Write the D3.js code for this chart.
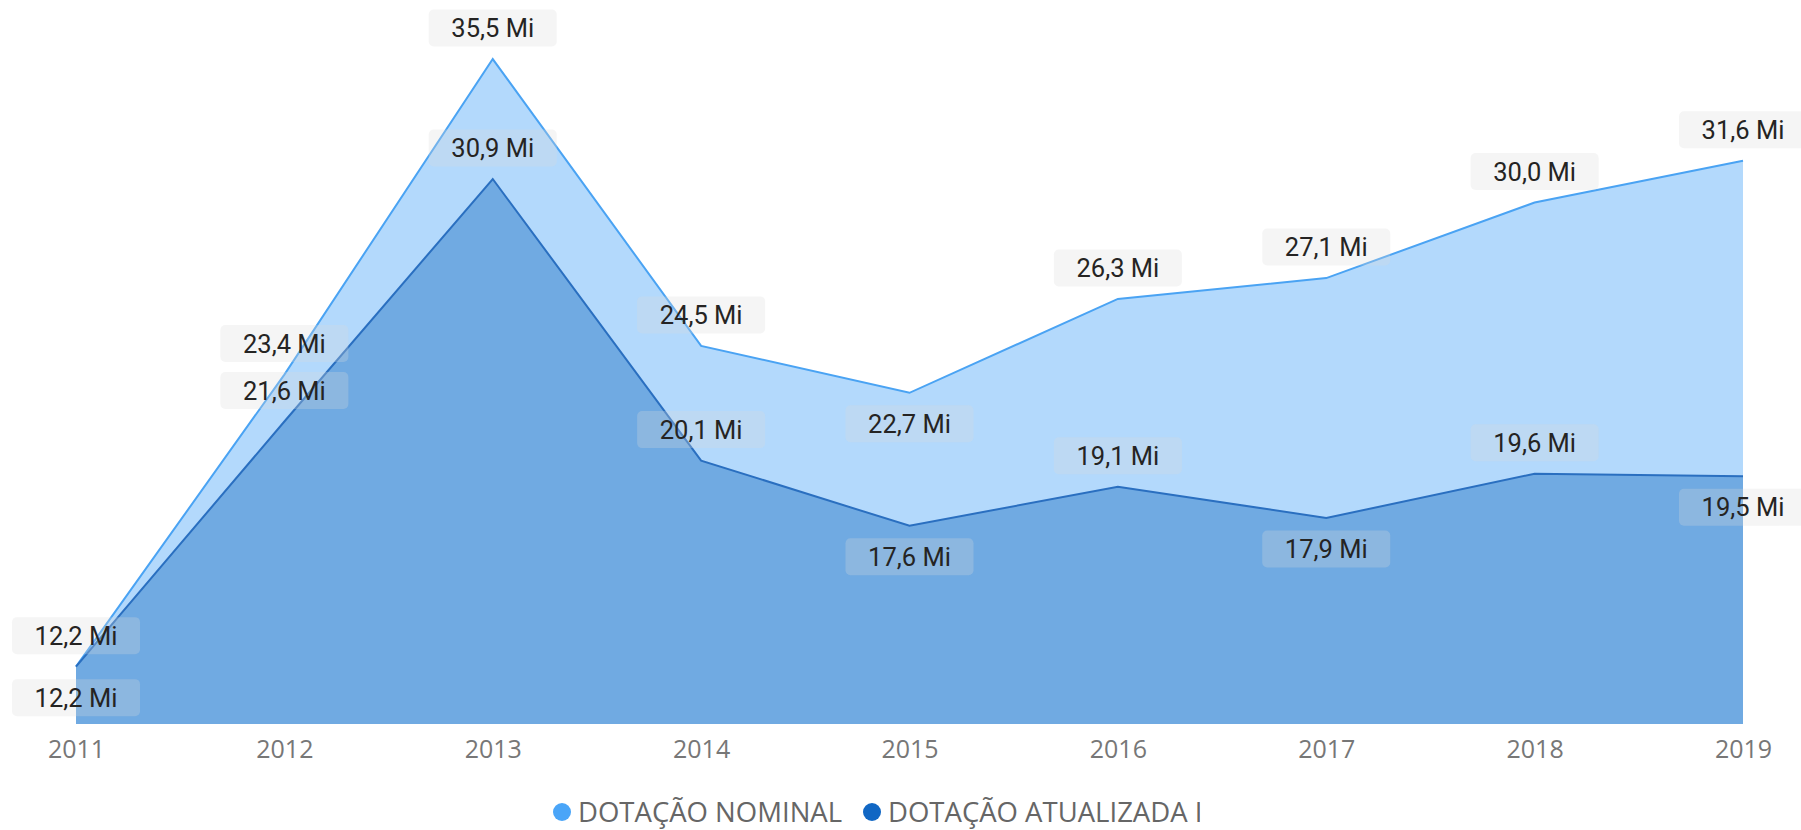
<!DOCTYPE html>
<html>
<head>
<meta charset="utf-8">
<script src="https://cdn.jsdelivr.net/npm/d3@7"></script>
<style>
  body { margin: 0; background: #fff; }
  svg { display: block; }
</style>
</head>
<body>
<svg id="chart"></svg>
<script>
// values in millions
const years = [2011, 2012, 2013, 2014, 2015, 2016, 2017, 2018, 2019];
const nominal = [12.2, 23.4, 35.5, 24.5, 22.7, 26.3, 27.1, 30.0, 31.6];
const atualizada = [12.2, 21.6, 30.9, 20.1, 17.6, 19.1, 17.9, 19.6, 19.5];
const seriesNames = ['DOTAÇÃO NOMINAL', 'DOTAÇÃO ATUALIZADA IPCA'];

const W = 1801, H = 830;
const margin = {top: 46, right: 58, bottom: 106, left: 76};

const svg = d3.select('#chart').attr('width', W).attr('height', H);

const x = d3.scalePoint()
    .domain(years)
    .range([margin.left, W - margin.right]);

const y = d3.scaleLinear()
    .domain([10, 36])
    .range([H - margin.bottom, margin.top]);

const area = vals => d3.area()
    .x((d, i) => x(years[i]))
    .y0(y(10))
    .y1(d => y(d))(vals);

const line = vals => d3.line()
    .x((d, i) => x(years[i]))
    .y(d => y(d))(vals);

// light area (nominal) behind, darker one (atualizada) on top
svg.append('path').attr('d', area(nominal)).attr('fill', '#b3d9fc');
svg.append('path').attr('d', line(nominal))
    .attr('fill', 'none').attr('stroke', '#4aa3f3').attr('stroke-width', 2);
svg.append('path').attr('d', area(atualizada)).attr('fill', '#70aae2');
svg.append('path').attr('d', line(atualizada))
    .attr('fill', 'none').attr('stroke', '#2a6fc0').attr('stroke-width', 2);

// x axis
const xAxisG = svg.append('g')
    .attr('transform', `translate(0,${H - margin.bottom})`)
    .call(d3.axisBottom(x).tickSize(0).tickPadding(16));
xAxisG.select('.domain').remove();
xAxisG.selectAll('text')
    .attr('fill', '#777')
    .style('font-family', '"Open Sans", sans-serif')
    .style('font-size', '25px');

// data labels
const fmt = v => d3.format('.1f')(v).replace('.', ',') + ' Mi';
const isLow = (vals, i) =>
    (i === 0 || vals[i] < vals[i - 1]) && (i === vals.length - 1 || vals[i] < vals[i + 1]);

const off = 31;
const labels = [];
years.forEach((yr, i) => {
    let nBelow = isLow(nominal, i);
    let aBelow = isLow(atualizada, i);
    let ny = y(nominal[i]) + (nBelow ? off : -off);
    let ay = y(atualizada[i]) + (aBelow ? off : -off);
    if (Math.abs(ny - ay) < 40) {
        ny = y(nominal[i]) - off;
        ay = y(atualizada[i]) + off;
    }
    labels.push({x: x(yr), y: ny, text: fmt(nominal[i])});
    labels.push({x: x(yr), y: ay, text: fmt(atualizada[i])});
});

const lab = svg.append('g').selectAll('g')
    .data(labels)
    .join('g')
    .attr('transform', d => `translate(${d.x},${d.y})`);

lab.append('rect')
    .attr('x', -64).attr('y', -18.5)
    .attr('width', 128).attr('height', 37)
    .attr('rx', 5)
    .attr('fill', '#d9d9d9')
    .attr('fill-opacity', 0.27);

lab.append('text')
    .attr('text-anchor', 'middle')
    .attr('dy', '0.36em')
    .attr('fill', '#252423')
    .style('font-family', 'Roboto, sans-serif')
    .style('font-size', '25.5px')
    .text(d => d.text);

// legend, clipped at the right like the original
const clipRect = svg.append('clipPath').attr('id', 'legclip')
    .append('rect').attr('x', 0).attr('y', 770).attr('width', W).attr('height', 60);

const legend = svg.append('g').attr('clip-path', 'url(#legclip)');
const legColors = ['#4aa5f8', '#1167c4'];
const legX = [562, 872];
let lastText;
seriesNames.forEach((name, i) => {
    legend.append('circle')
        .attr('cx', legX[i]).attr('cy', 812).attr('r', 9)
        .attr('fill', legColors[i]);
    lastText = legend.append('text')
        .attr('x', legX[i] + 16).attr('y', 812)
        .attr('dy', '0.36em')
        .attr('fill', '#666')
        .style('font-family', '"Open Sans", sans-serif')
        .style('font-size', '27.5px')
        .text(name);
});
// cut the second legend entry just after the stem of the first truncated letter
const cutIdx = 'DOTAÇÃO ATUALIZADA '.length;
const cutX = lastText.node().getStartPositionOfChar(cutIdx).x + 5.5;
clipRect.attr('width', cutX);
</script>
</body>
</html>
